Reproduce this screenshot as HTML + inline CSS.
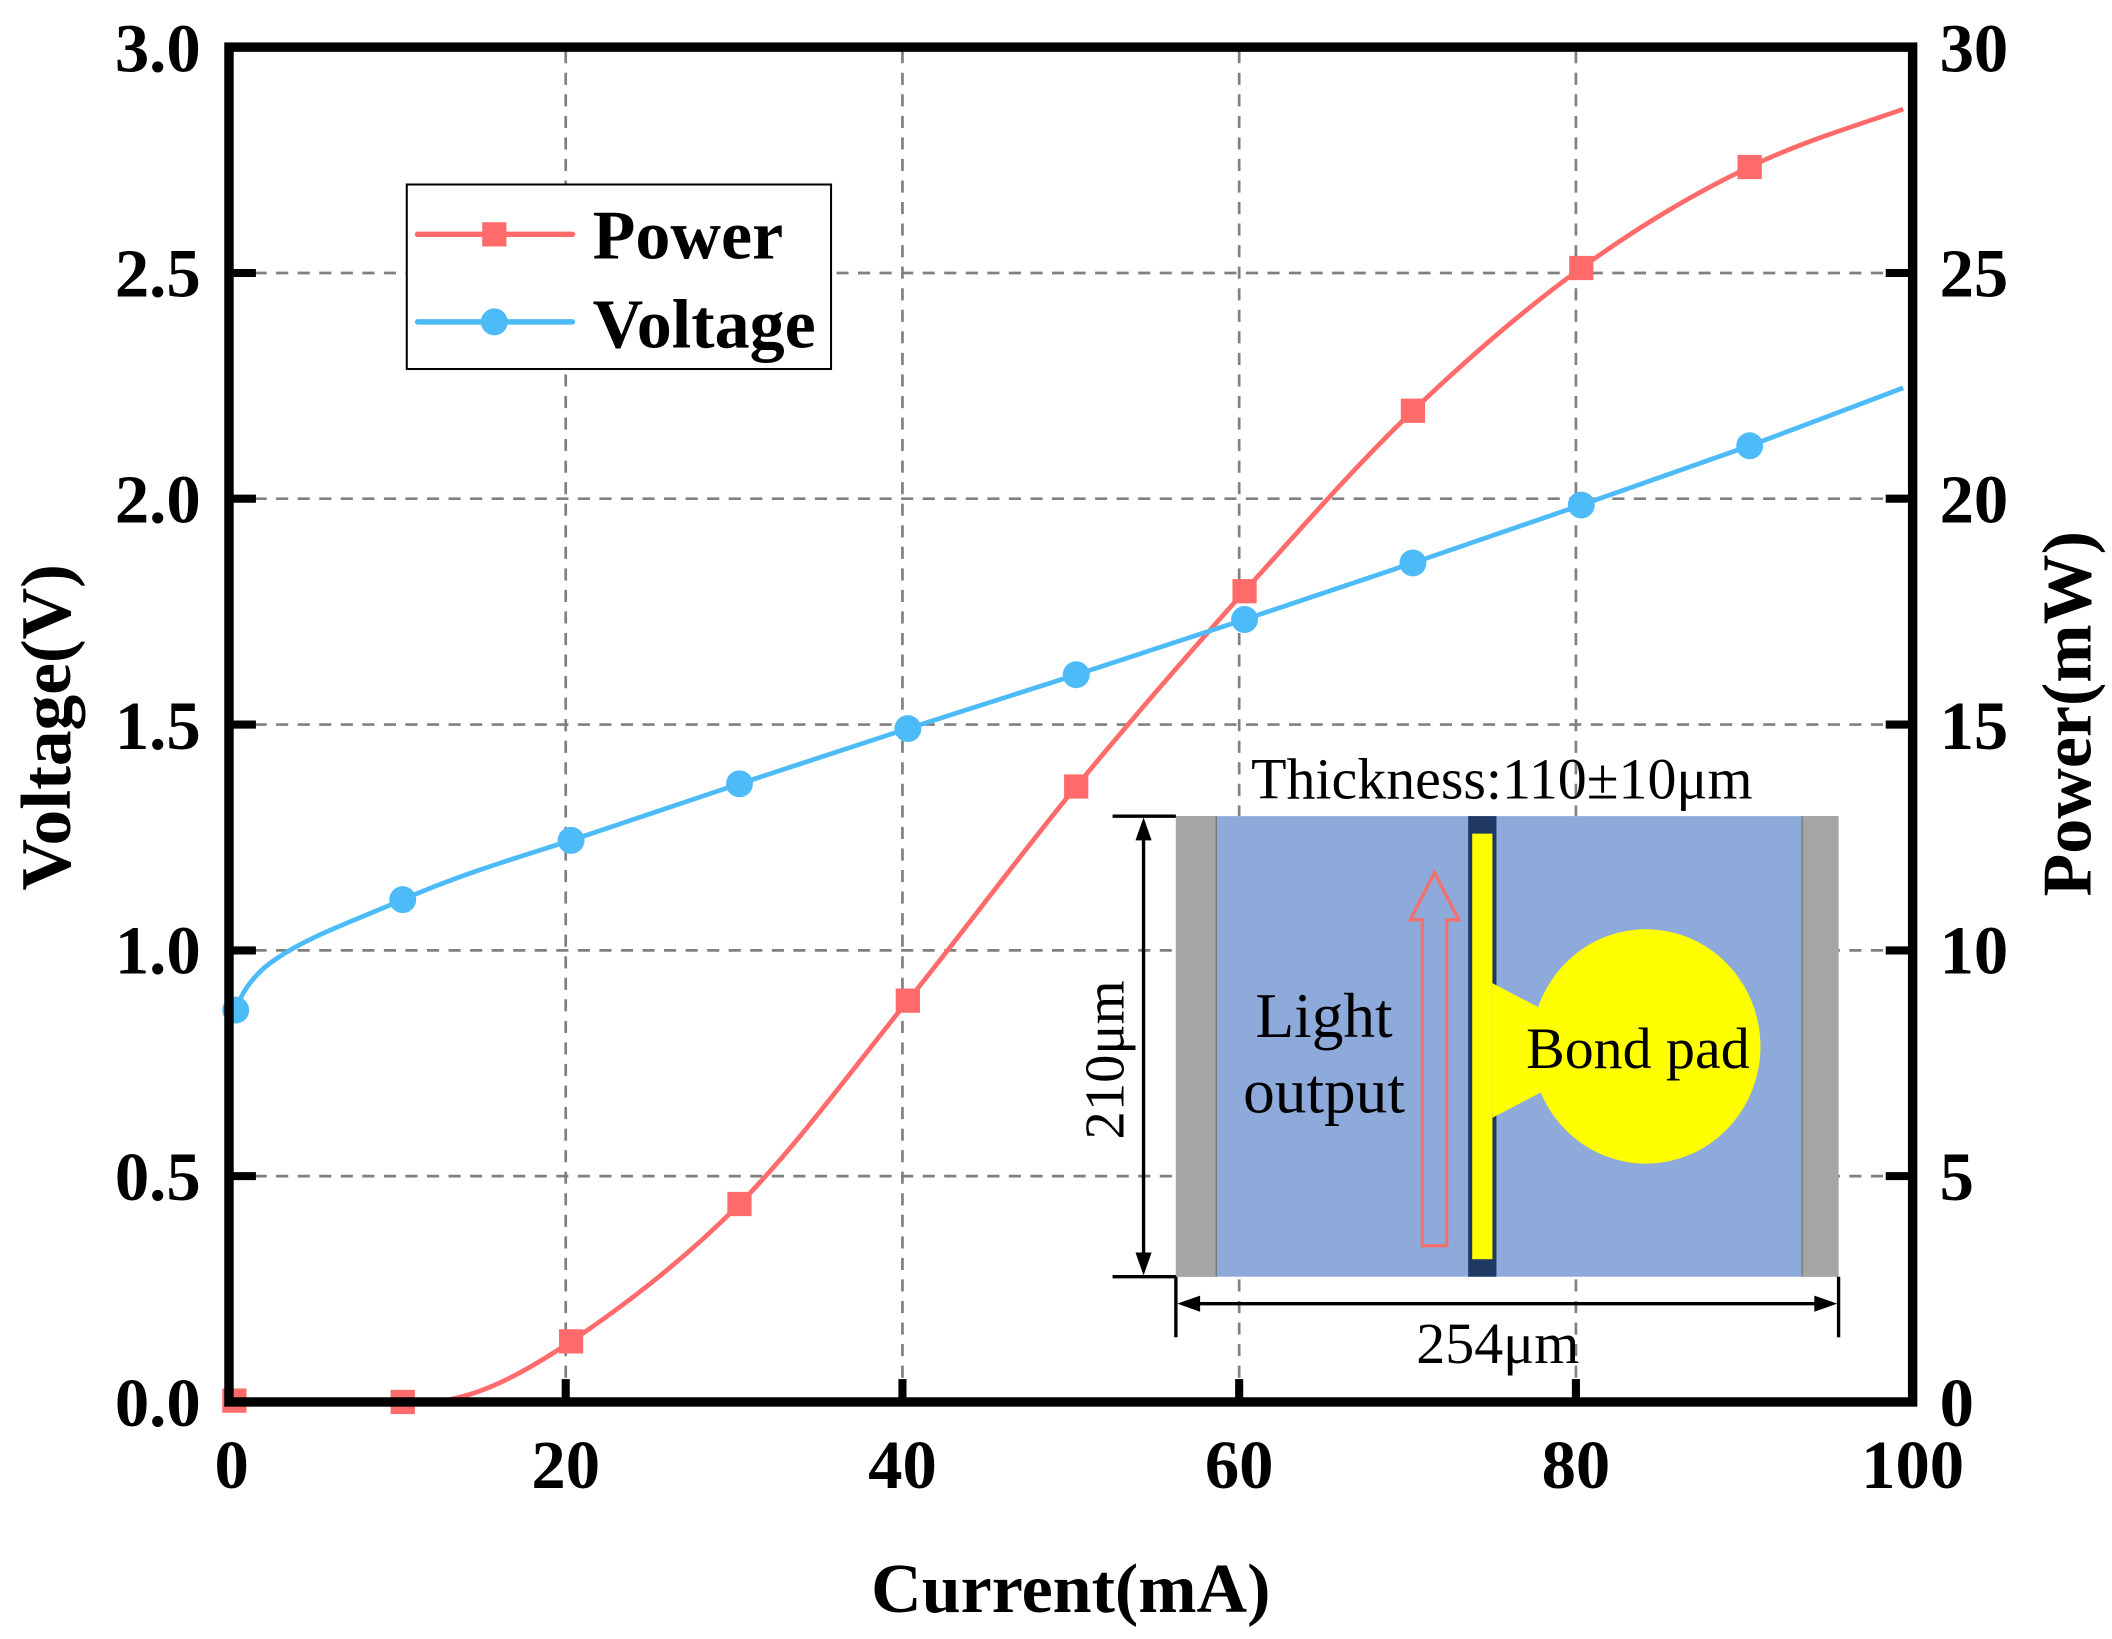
<!DOCTYPE html>
<html><head><meta charset="utf-8"><style>html,body{margin:0;padding:0;background:#fff}svg{display:block}</style></head><body>
<svg width="2112" height="1639" viewBox="0 0 1568 1217" preserveAspectRatio="none" xmlns="http://www.w3.org/2000/svg" font-family="Liberation Serif, serif">
<rect width="1568" height="1217" fill="#fff"/>
<g stroke="#808080" stroke-width="2" stroke-dasharray="9,7" fill="none">
<line x1="420" y1="38" x2="420" y2="1038"/><line x1="670" y1="38" x2="670" y2="1038"/><line x1="920" y1="38" x2="920" y2="1038"/><line x1="1170" y1="38" x2="1170" y2="1038"/>
<line x1="173" y1="202.7" x2="1417" y2="202.7"/><line x1="173" y1="370.3" x2="1417" y2="370.3"/><line x1="173" y1="538" x2="1417" y2="538"/><line x1="173" y1="705.7" x2="1417" y2="705.7"/><line x1="173" y1="873.3" x2="1417" y2="873.3"/>
</g>
<!-- inset -->
<rect x="873" y="606" width="492" height="342" fill="#8eaadb"/>
<rect x="873" y="606" width="30" height="342" fill="#a5a5a5"/>
<rect x="1338" y="606" width="27" height="342" fill="#a5a5a5"/>
<line x1="903" y1="606" x2="903" y2="948" stroke="#777" stroke-width="1"/>
<line x1="1338" y1="606" x2="1338" y2="948" stroke="#777" stroke-width="1"/>
<rect x="1090" y="606" width="21" height="342" fill="#1f3864"/>
<rect x="1093" y="619" width="15" height="316" fill="#ffff00"/>
<polygon points="1108,730 1150,752 1150,808 1108,830" fill="#ffff00"/>
<ellipse cx="1222" cy="777" rx="85" ry="87" fill="#ffff00"/>
<polygon points="1056,925 1074,925 1074,683 1083,683 1065,648 1047,683 1056,683" fill="none" stroke="#f4706c" stroke-width="2.5"/>
<g stroke="#000" stroke-width="2.5" fill="none">
<line x1="826" y1="606" x2="873" y2="606"/><line x1="826" y1="948" x2="873" y2="948"/>
<line x1="849" y1="616" x2="849" y2="938"/>
<line x1="873" y1="948" x2="873" y2="993"/><line x1="1365" y1="948" x2="1365" y2="993"/>
<line x1="883" y1="968" x2="1355" y2="968"/>
</g>
<g fill="#000">
<polygon points="849,607 843,624 855,624"/><polygon points="849,947 843,930 855,930"/>
<polygon points="874,968 891,962 891,974"/><polygon points="1364,968 1347,962 1347,974"/>
</g>
<g fill="#000">
<text x="1115" y="593" text-anchor="middle" font-size="43">Thickness:110±10μm</text>
<text x="1112" y="1012" text-anchor="middle" font-size="43">254μm</text>
<text transform="translate(834,787) rotate(-90)" text-anchor="middle" font-size="42">210μm</text>
<text x="983" y="770" text-anchor="middle" font-size="47">Light</text>
<text x="983" y="826" text-anchor="middle" font-size="47">output</text>
<text x="1216" y="793" text-anchor="middle" font-size="43">Bond pad</text>
</g>
<!-- series -->
<path fill="none" stroke="#ff6b6b" stroke-width="3.5" d="M175,1041 L315,1041 C350,1041 387.5,1020.5 424,996 C460.5,971.5 507.3,936.2 549,894 C590.7,851.8 632.3,794.7 674,743 C715.7,691.3 757.3,634.7 799,584 C840.7,533.3 882.3,485.5 924,439 C965.7,392.5 1007.3,345 1049,305 C1090.7,265 1132.3,229.2 1174,199 C1215.7,168.8 1257.3,143.7 1299,124 C1338.8,104.3 1394,88.2 1413,81"/>
<path fill="none" stroke="#4dbbf8" stroke-width="3.5" d="M175,750 C180,735 190,722 205,712 C230,695 260,685 299,668 C340,650 380,638 424,624 L549,582 L674,541 L799,501 L924,460 L1049,418 L1174,375 L1299,331 L1413,288"/>
<g fill="#ff6b6b">
<rect x="165" y="1031" width="18" height="18"/><rect x="290" y="1032" width="18" height="18"/><rect x="415" y="987" width="18" height="18"/><rect x="540" y="885" width="18" height="18"/><rect x="665" y="734" width="18" height="18"/><rect x="790" y="575" width="18" height="18"/><rect x="915" y="430" width="18" height="18"/><rect x="1040" y="296" width="18" height="18"/><rect x="1165" y="190" width="18" height="18"/><rect x="1290" y="115" width="18" height="18"/>
</g>
<g fill="#4dbbf8">
<circle cx="175" cy="750" r="10"/><circle cx="299" cy="668" r="10"/><circle cx="424" cy="624" r="10"/><circle cx="549" cy="582" r="10"/><circle cx="674" cy="541" r="10"/><circle cx="799" cy="501" r="10"/><circle cx="924" cy="460" r="10"/><circle cx="1049" cy="418" r="10"/><circle cx="1174" cy="375" r="10"/><circle cx="1299" cy="331" r="10"/>
</g>
<!-- axes -->
<rect x="170" y="35" width="1250" height="1006" fill="none" stroke="#000" stroke-width="7"/>
<g stroke="#000" stroke-width="6">
<line x1="420" y1="1041" x2="420" y2="1024"/><line x1="670" y1="1041" x2="670" y2="1024"/><line x1="920" y1="1041" x2="920" y2="1024"/><line x1="1170" y1="1041" x2="1170" y2="1024"/>
<line x1="170" y1="202.7" x2="190" y2="202.7"/><line x1="170" y1="370.3" x2="190" y2="370.3"/><line x1="170" y1="538" x2="190" y2="538"/><line x1="170" y1="705.7" x2="190" y2="705.7"/><line x1="170" y1="873.3" x2="190" y2="873.3"/>
<line x1="1400" y1="202.7" x2="1420" y2="202.7"/><line x1="1400" y1="370.3" x2="1420" y2="370.3"/><line x1="1400" y1="538" x2="1420" y2="538"/><line x1="1400" y1="705.7" x2="1420" y2="705.7"/><line x1="1400" y1="873.3" x2="1420" y2="873.3"/>
</g>
<g font-size="51" font-weight="bold" fill="#000">
<g text-anchor="end">
<text x="149" y="53">3.0</text><text x="149" y="220">2.5</text><text x="149" y="388">2.0</text><text x="149" y="556">1.5</text><text x="149" y="723">1.0</text><text x="149" y="891">0.5</text><text x="149" y="1059">0.0</text>
</g>
<g text-anchor="start">
<text x="1440" y="53">30</text><text x="1440" y="220">25</text><text x="1440" y="388">20</text><text x="1440" y="556">15</text><text x="1440" y="723">10</text><text x="1440" y="891">5</text><text x="1440" y="1059">0</text>
</g>
<g text-anchor="middle">
<text x="172" y="1105">0</text><text x="420" y="1105">20</text><text x="670" y="1105">40</text><text x="920" y="1105">60</text><text x="1170" y="1105">80</text><text x="1420" y="1105">100</text>
</g>
<text x="795" y="1197" text-anchor="middle" font-size="52">Current(mA)</text>
<text transform="translate(52,540) rotate(-90)" text-anchor="middle" font-size="53">Voltage(V)</text>
<text transform="translate(1552,530) rotate(-90)" text-anchor="middle" font-size="52">Power(mW)</text>
</g>
<!-- legend -->
<rect x="302" y="137" width="315" height="137" fill="#fff" stroke="#000" stroke-width="1.5"/>
<line x1="310" y1="174" x2="425" y2="174" stroke="#ff6b6b" stroke-width="4" stroke-linecap="round"/>
<rect x="358" y="165" width="18" height="18" fill="#ff6b6b"/>
<line x1="310" y1="239" x2="425" y2="239" stroke="#4dbbf8" stroke-width="4" stroke-linecap="round"/>
<circle cx="367" cy="239" r="10" fill="#4dbbf8"/>
<g font-size="52" font-weight="bold" fill="#000">
<text x="440" y="192">Power</text>
<text x="440" y="258">Voltage</text>
</g>
</svg>
</body></html>
